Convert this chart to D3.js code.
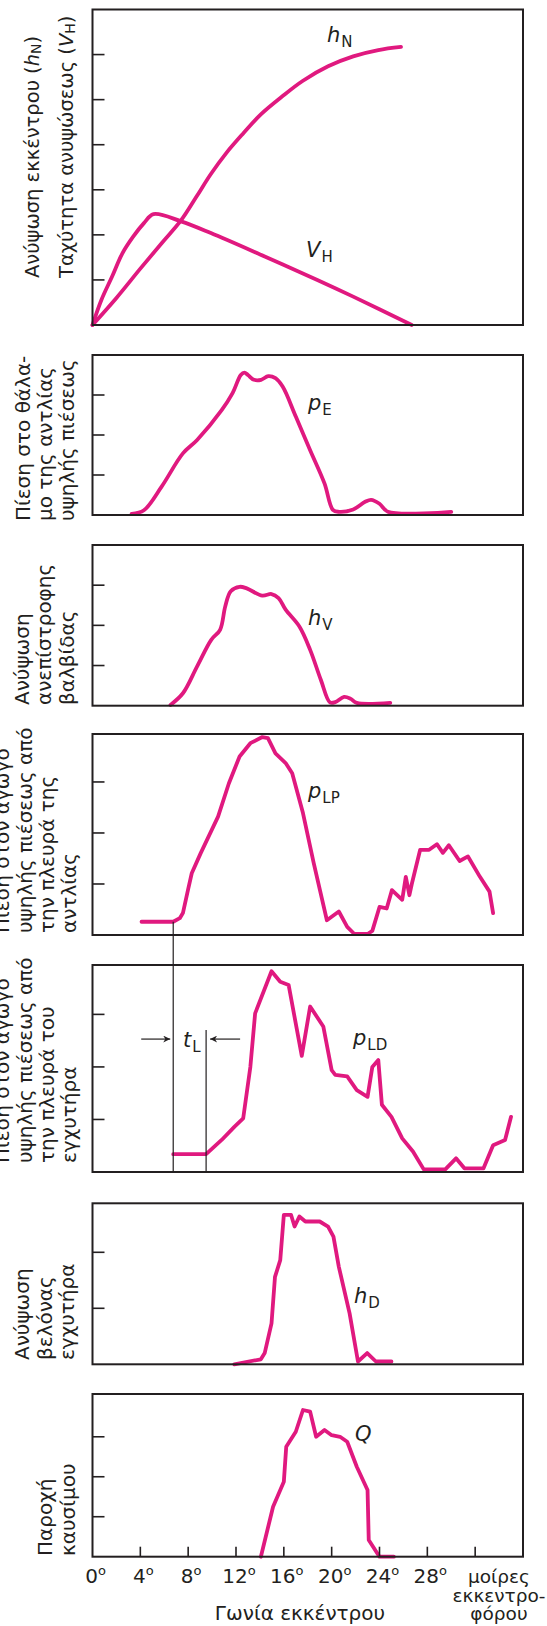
<!DOCTYPE html>
<html><head><meta charset="utf-8">
<script src="https://cdn.jsdelivr.net/npm/d3@7"></script>
<style>
body{margin:0;background:#fff;}
svg text{font-family:"DejaVu Sans","Liberation Sans",Arial,sans-serif;fill:#231f20;}
</style></head>
<body><svg id="c" width="547" height="1626"></svg>
<script>
// ---------- data (x = cam angle in degrees, y = relative value) ----------
const xTickValues = [0, 4, 8, 12, 16, 20, 24, 28, 32];
const xTickLabels = ["0", "4", "8", "12", "16", "20", "24", "28", ""];
const xUnitLabel = ["μοίρες", "εκκεντρο-", "φόρου"];
const xAxisTitle = "Γωνία εκκέντρου";

const hN = [[0,0],[2,0.6],[4,1.25],[5.8,1.82],[7.4,2.32],[8.7,2.85],[9.9,3.35],[11.2,3.82],[12.6,4.25],[14.1,4.68],[15.9,5.08],[17.6,5.42],[19.7,5.74],[21.8,5.96],[23.9,6.1],[25.8,6.17]];
const vH = [[0,0],[0.75,0.56],[1.63,1.07],[2.5,1.59],[3.4,1.96],[4.3,2.26],[5.1,2.46],[7.4,2.3],[9.9,2.04],[14.4,1.52],[18.8,1.0],[21.8,0.63],[26.7,0.0]];
const pE = [[3.27,0.03],[4.3,0.12],[5.78,0.71],[7.56,1.54],[8.75,1.875],[10.8,2.62],[11.7,3.04],[12.4,3.5],[12.7,3.56],[13.0,3.5],[13.5,3.38],[14.1,3.38],[14.7,3.47],[15.3,3.42],[15.9,3.21],[17.0,2.46],[18.2,1.62],[19.4,0.79],[20.1,0.13],[20.6,0.08],[21.8,0.14],[22.8,0.33],[23.3,0.38],[24.0,0.28],[24.7,0.08],[30.0,0.08]];
const hV = [[6.52,0.02],[7.56,0.31],[8.75,0.98],[9.93,1.64],[10.67,1.89],[11.1,2.47],[11.56,2.85],[12.3,2.96],[12.9,2.92],[14.2,2.74],[14.97,2.78],[15.56,2.68],[16.15,2.39],[17.3,1.97],[18.2,1.39],[19.1,0.64],[19.86,0.08],[20.3,0.09],[21.04,0.22],[21.6,0.17],[22.1,0.07],[24.9,0.07]];
const pLP = [[4.1,0.26],[6.75,0.26],[7.3,0.33],[7.56,0.43],[8.0,0.9],[8.3,1.21],[9.04,1.6],[10.5,2.32],[11.4,2.97],[12.3,3.5],[13.2,3.76],[14.2,3.88],[14.67,3.86],[15.3,3.56],[16.15,3.37],[16.7,3.17],[17.6,2.39],[18.5,1.41],[19.6,0.29],[20.6,0.46],[21.3,0.16],[21.9,0.02],[23.0,0.02],[23.4,0.08],[24.0,0.55],[24.6,0.52],[25.04,0.88],[25.9,0.69],[26.2,1.14],[26.5,0.78],[26.7,1.0],[27.4,1.67],[28.15,1.67],[28.8,1.78],[29.3,1.61],[29.8,1.76],[30.7,1.45],[31.4,1.54],[32.4,1.14],[33.2,0.85],[33.5,0.43]];
const pLD = [[6.75,0.34],[9.5,0.34],[10.8,0.61],[11.86,0.86],[12.6,1.02],[13.2,2.0],[13.6,3.02],[14.97,3.82],[15.7,3.62],[16.4,3.56],[17.5,2.21],[18.2,3.15],[19.3,2.77],[20.0,1.94],[20.3,1.85],[21.3,1.82],[22.1,1.56],[23.0,1.43],[23.4,2.0],[23.9,2.13],[24.2,1.28],[25.0,1.05],[25.9,0.64],[26.8,0.39],[27.7,0.05],[29.5,0.05],[30.4,0.26],[31.1,0.07],[32.7,0.07],[33.5,0.51],[34.5,0.61],[35.0,1.05]];
const hD = [[11.86,0.0],[14.08,0.09],[14.4,0.2],[14.97,0.73],[15.26,1.56],[15.7,1.86],[16.0,2.67],[16.6,2.67],[16.9,2.46],[17.3,2.64],[17.8,2.55],[19.0,2.55],[19.7,2.46],[20.15,2.28],[20.6,1.74],[21.5,0.91],[22.2,0.05],[22.97,0.2],[23.7,0.05],[25.0,0.05]];
const Q = [[14.08,0.0],[15.1,1.25],[16.0,1.875],[16.2,2.75],[17.0,3.125],[17.6,3.67],[18.2,3.63],[18.7,3.0],[19.4,3.17],[20.0,3.04],[20.7,3.0],[21.3,2.875],[22.1,2.25],[23.0,1.67],[23.1,0.42],[24.0,0.0],[25.2,0.0]];
const tL = [6.75, 9.5];        // injection delay, degrees
const tLLevelLP = 0.26;         // start of marker line in p_LP panel
const tLArrowLevel = 2.53;

// ---------- layout ----------
const svg = d3.select("#c");
const color = "#e0197f";
const X0 = 92.5, X1 = 523;
const x = d3.scaleLinear().domain([0, 36]).range([X0, X1]);

const panels = [
  {top:9.5,  bottom:325,    max:7.0,  ticks:[1,2,3,4,5,6], series:[{d:hN, smooth:true},{d:vH, smooth:true}], fs:19.5,
   ylab:[{t:"Ανύψωση εκκέντρου (",it:"h",sub:"N",end:")",x:31.5},{t:"Ταχύτητα ανυψώσεως (",it:"V",sub:"H",end:")",x:66}], ystart:278,
   names:[{it:"h",sub:"N",x:327,y:42},{it:"V",sub:"H",x:306,y:257}]},
  {top:355,  bottom:515,    max:4.0,  ticks:[1,2,3], series:[{d:pE, smooth:true}], fs:20,
   ylab:[{t:"Πίεση στο θάλα-",x:22.5},{t:"μο της αντλίας",x:44.5},{t:"υψηλής πιέσεως",x:66.5}], ystart:521,
   names:[{it:"p",sub:"E",x:308,y:410}]},
  {top:545,  bottom:705.7,  max:4.0,  ticks:[1,2,3], series:[{d:hV, smooth:true}], fs:20,
   ylab:[{t:"Ανύψωση",x:22},{t:"ανεπίστροφης",x:44},{t:"βαλβίδας",x:66.5}], ystart:705,
   names:[{it:"h",sub:"V",x:308,y:625}]},
  {top:734,  bottom:935,    max:3.94, ticks:[1,2,3], series:[{d:pLP, smooth:false}], fs:20,
   ylab:[{t:"Πίεση στον αγωγό",x:2},{t:"υψηλής πιέσεως από",x:24.5},{t:"την πλευρά της",x:47},{t:"αντλίας",x:69}], ystart:933,
   names:[{it:"p",sub:"LP",x:308,y:798}]},
  {top:965,  bottom:1172,   max:3.94, ticks:[1,2,3], series:[{d:pLD, smooth:false}], fs:20,
   ylab:[{t:"Πίεση στον αγωγό",x:2},{t:"υψηλής πιέσεως από",x:24.5},{t:"την πλευρά του",x:47},{t:"εγχυτήρα",x:69}], ystart:1163,
   names:[{it:"p",sub:"LD",x:353,y:1045},{it:"t",sub:"L",x:183,y:1047}]},
  {top:1203.3,bottom:1364.3,max:2.875,ticks:[1,2], series:[{d:hD, smooth:false}], fs:20,
   ylab:[{t:"Ανύψωση",x:22},{t:"βελόνας",x:44.5},{t:"εγχυτήρα",x:66.5}], ystart:1360,
   names:[{it:"h",sub:"D",x:354,y:1303}]},
  {top:1394, bottom:1556.7, max:4.07, ticks:[1,2,3], series:[{d:Q, smooth:false}], fs:20,
   ylab:[{t:"Παροχή",x:45},{t:"καυσίμου",x:67.5}], ystart:1556,
   names:[{it:"Q",sub:"",x:355,y:1441}]}
];

const scales = [];
panels.forEach((p, i) => {
  const y = d3.scaleLinear().domain([0, p.max]).range([p.bottom, p.top]);
  scales.push(y);
  const g = svg.append("g");
  g.selectAll("line.tk").data(p.ticks).join("line")
    .attr("x1", X0).attr("x2", X0 + 12)
    .attr("y1", d => y(d)).attr("y2", d => y(d))
    .attr("stroke", "#231f20").attr("stroke-width", 1.6);
  p.series.forEach(s => {
    const line = d3.line().x(d => x(d[0])).y(d => y(d[1]))
      .curve(s.smooth ? d3.curveCatmullRom.alpha(0.5) : d3.curveLinear);
    g.append("path").attr("d", line(s.d)).attr("fill", "none")
      .attr("stroke", color).attr("stroke-width", 3.8)
      .attr("stroke-linejoin", "round").attr("stroke-linecap", "round");
  });
  g.append("rect").attr("x", X0).attr("y", p.top).attr("width", X1 - X0).attr("height", p.bottom - p.top)
    .attr("fill", "none").attr("stroke", "#231f20").attr("stroke-width", 2);
  p.ylab.forEach(l => {
    const t = g.append("text").attr("transform", `translate(${l.x},${p.ystart}) rotate(-90)`)
      .attr("dominant-baseline", "central").attr("font-size", p.fs);
    t.append("tspan").text(l.t);
    if (l.it) {
      t.append("tspan").attr("font-style", "italic").text(l.it);
      t.append("tspan").attr("font-size", 14).attr("dy", 4).text(l.sub);
      t.append("tspan").attr("dy", -4).text(l.end);
    }
  });
  p.names.forEach(n => {
    const t = g.append("text").attr("x", n.x).attr("y", n.y).attr("font-size", 21);
    t.append("tspan").attr("font-style", "italic").text(n.it);
    if (n.sub) t.append("tspan").attr("font-size", 15).attr("dy", 5).attr("dx", 1).text(n.sub);
  });
});

// bottom x axis ticks (upward) and labels
const last = panels[panels.length - 1];
const gx = svg.append("g");
gx.selectAll("line").data(xTickValues.filter(v => v > 0)).join("line")
  .attr("x1", d => x(d)).attr("x2", d => x(d))
  .attr("y1", last.bottom).attr("y2", last.bottom - 10)
  .attr("stroke", "#231f20").attr("stroke-width", 1.6);
xTickValues.forEach((v, i) => {
  if (!xTickLabels[i]) return;
  const t = gx.append("text").attr("x", x(v) + 3).attr("y", 1583).attr("text-anchor", "middle").attr("font-size", 20);
  t.append("tspan").text(xTickLabels[i]);
  t.append("tspan").attr("font-size", 13).attr("dy", -8).text("o");
});
xUnitLabel.forEach((s, i) => {
  gx.append("text").attr("x", 499).attr("y", 1583 + i * 18.5).attr("text-anchor", "middle").attr("font-size", 18.5).text(s);
});
gx.append("text").attr("x", 300).attr("y", 1620).attr("text-anchor", "middle").attr("font-size", 20).text(xAxisTitle);

// injection delay markers
const yLP = scales[3], yLD = scales[4];
const ay = yLD(tLArrowLevel);
const gm = svg.append("g").attr("stroke", "#231f20").attr("stroke-width", 1.2);
gm.append("line").attr("x1", x(tL[0])).attr("x2", x(tL[0])).attr("y1", yLP(tLLevelLP)).attr("y2", yLD(0));
gm.append("line").attr("x1", x(tL[1])).attr("x2", x(tL[1])).attr("y1", ay - 9).attr("y2", yLD(0));
svg.append("defs").append("marker").attr("id", "ah").attr("viewBox", "0 0 10 10").attr("refX", 10).attr("refY", 5)
  .attr("markerWidth", 10).attr("markerHeight", 7).attr("markerUnits", "userSpaceOnUse").attr("orient", "auto")
  .append("path").attr("d", "M0,0L10,5L0,10L3,5Z").attr("fill", "#231f20");
svg.append("line").attr("x1", x(tL[0]) - 32).attr("x2", x(tL[0]) - 3).attr("y1", ay).attr("y2", ay)
  .attr("stroke", "#231f20").attr("stroke-width", 1.2).attr("marker-end", "url(#ah)");
svg.append("line").attr("x1", x(tL[1]) + 34).attr("x2", x(tL[1]) + 4).attr("y1", ay).attr("y2", ay)
  .attr("stroke", "#231f20").attr("stroke-width", 1.2).attr("marker-end", "url(#ah)");
</script></body></html>
